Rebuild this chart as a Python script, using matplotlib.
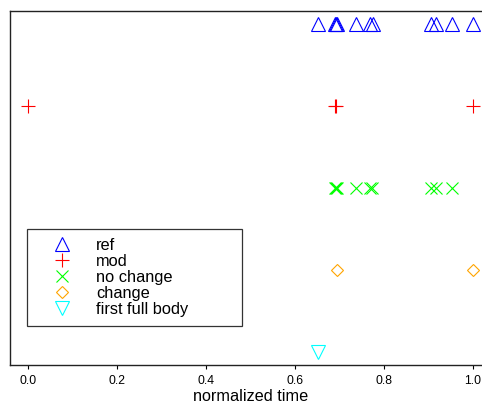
import matplotlib
matplotlib.use('Agg')
import matplotlib.pyplot as plt

plt.rcParams['font.family'] = ['Liberation Sans', 'DejaVu Sans']

# event times (normalized), one row per event type
ref_times = [0.652, 0.690, 0.692, 0.694, 0.737, 0.768, 0.775, 0.905, 0.917, 0.952, 1.0]
mod_times = [0.0, 0.691, 0.693, 1.0]
nochange_times = [0.690, 0.692, 0.694, 0.737, 0.768, 0.773, 0.905, 0.917, 0.952]
change_times = [0.694, 1.0]
fullbody_times = [0.652]

labels = ['ref', 'mod', 'no change', 'change', 'first full body']
rows = [5, 4, 3, 2, 1]
colors = ['#0000FF', '#FF0000', '#00FF00', '#FFA500', '#00FFFF']
markers = ['^', '+', 'x', 'D', 'v']
sizes = [9.5, 10.5, 9.0, 6.5, 9.5]

fig = plt.figure(figsize=(4.82, 4.11), dpi=100)
ax = fig.add_axes([10.2 / 482, 46 / 411, 480.6 / 482, 354 / 411])

series = [ref_times, mod_times, nochange_times, change_times, fullbody_times]
for times, row, c, m, s, lab in zip(series, rows, colors, markers, sizes, labels):
    ax.plot(times, [row] * len(times), linestyle='none', marker=m, markersize=s,
            markerfacecolor='none', markeredgecolor=c, markeredgewidth=0.8,
            label=lab, clip_on=False)

ax.set_xlim(-0.04, 1.04)
ax.set_ylim(0.84, 5.16)
ax.set_yticks([])
ax.set_xticks([0.0, 0.2, 0.4, 0.6, 0.8, 1.0])
ax.set_xticklabels(['0.0', '0.2', '0.4', '0.6', '0.8', '1.0'])
ax.tick_params(axis='x', length=3, width=0.8, pad=4.2, labelsize=8.8, direction='out')
ax.set_xlabel('normalized time', fontsize=11.7, labelpad=1.5)
for sp in ax.spines.values():
    sp.set_linewidth(1.0)
    sp.set_color('#222222')
ax.spines['right'].set_visible(False)

leg = ax.legend(loc='upper left', bbox_to_anchor=(0.035, 0.107, 0.447, 0.277),
                mode='expand', fontsize=11.8, frameon=True, fancybox=False,
                borderaxespad=0, borderpad=0.55, handlelength=3.17, handletextpad=0.49,
                labelspacing=0.055, numpoints=1)
leg.get_frame().set_edgecolor('black')
leg.get_frame().set_linewidth(0.9)

fig.savefig('out.png', dpi=100)
